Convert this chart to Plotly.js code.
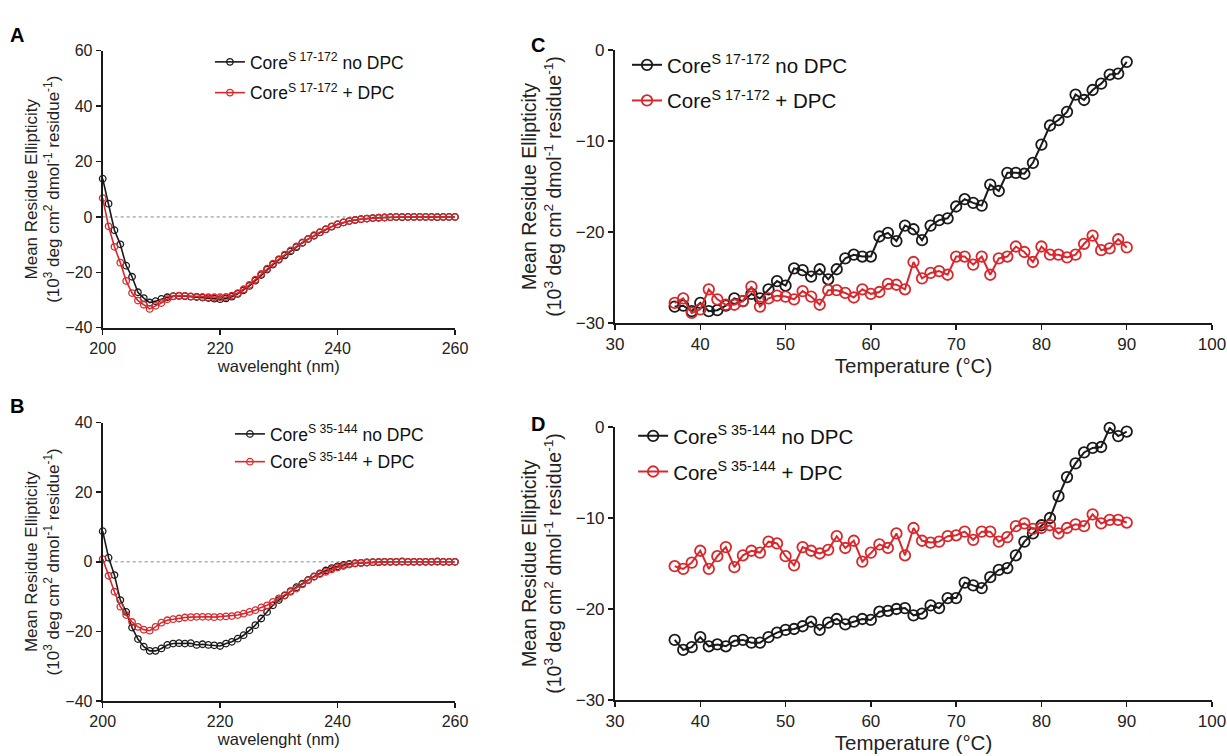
<!DOCTYPE html>
<html>
<head>
<meta charset="utf-8">
<script src="https://cdn.plot.ly/plotly-3.0.1.min.js"></script>
<style>html,body{margin:0;padding:0;background:#fff;}#chart{width:1227px;height:756px;}</style>
</head>
<body>
<div id="chart"></div>
<script>
// ---------- DATA ----------
const wavelength = [200,201,202,203,204,205,206,207,208,209,210,211,212,213,214,215,216,217,218,219,
  220,221,222,223,224,225,226,227,228,229,230,231,232,233,234,235,236,237,238,239,
  240,241,242,243,244,245,246,247,248,249,250,251,252,253,254,255,256,257,258,259,260];

const coreS17_172_noDPC_CD = [13.8,4.8,-4.8,-9.9,-17.6,-21.6,-27.2,-29.3,-30.9,-30.4,
  -29.6,-29.0,-28.6,-28.5,-28.6,-28.8,-28.9,-29.1,-29.3,-29.5,
  -29.7,-29.4,-28.8,-27.8,-26.5,-24.9,-23.0,-21.0,-19.0,-17.2,
  -15.5,-13.9,-12.4,-10.9,-9.4,-8.0,-6.8,-5.6,-4.5,-3.5,
  -2.7,-2.0,-1.5,-1.1,-0.8,-0.6,-0.4,-0.3,-0.2,-0.1,
  0.0,-0.1,0.0,0.0,0.0,0.0,0.0,-0.1,0.0,0.0,0.0];
const coreS17_172_DPC_CD = [6.8,-3.4,-10.8,-16.5,-23.1,-27.5,-30.2,-31.7,-33.2,-32.1,
  -31.1,-29.7,-28.7,-28.4,-28.5,-28.7,-28.8,-28.9,-29.0,-29.0,
  -29.0,-28.9,-28.4,-27.5,-26.1,-24.5,-22.6,-20.6,-18.7,-16.9,
  -15.2,-13.6,-12.1,-10.6,-9.2,-7.9,-6.6,-5.5,-4.4,-3.4,
  -2.6,-2.0,-1.5,-1.1,-0.8,-0.6,-0.4,-0.3,-0.2,-0.1,
  0.0,0.0,0.0,0.0,0.0,0.0,0.0,0.0,0.0,0.0,0.0];

const coreS35_144_noDPC_CD = [8.8,1.2,-3.8,-11.0,-14.4,-18.9,-22.2,-24.4,-25.6,-25.6,
  -24.9,-23.9,-23.5,-23.4,-23.5,-23.4,-23.9,-23.7,-23.9,-24.0,
  -24.2,-23.5,-23.0,-22.1,-21.1,-19.7,-18.2,-16.3,-14.4,-12.5,
  -11.0,-9.7,-8.4,-7.3,-6.3,-5.2,-4.2,-3.3,-2.5,-1.8,
  -1.3,-0.9,-0.6,-0.4,-0.3,-0.2,-0.1,-0.1,0.0,0.0,
  0.0,0.1,0.0,0.0,0.0,0.0,0.0,0.1,0.0,0.0,0.0];
const coreS35_144_DPC_CD = [0.8,-4.0,-8.6,-12.9,-15.3,-17.3,-18.7,-19.5,-19.8,-18.7,
  -17.5,-16.8,-16.5,-16.3,-16.0,-15.9,-15.8,-15.8,-15.8,-15.9,
  -15.8,-15.7,-15.6,-15.3,-14.9,-14.4,-13.9,-13.1,-12.5,-11.5,
  -10.5,-9.6,-8.6,-7.7,-6.5,-5.3,-4.3,-3.5,-2.9,-2.2,
  -1.6,-1.2,-0.8,-0.5,-0.3,-0.2,-0.1,0.0,0.0,0.0,
  0.0,0.0,0.0,0.0,0.0,0.0,0.0,0.0,0.0,0.0,0.0];

const temperature = [37,38,39,40,41,42,43,44,45,46,47,48,49,50,51,52,53,54,55,56,57,58,59,60,
  61,62,63,64,65,66,67,68,69,70,71,72,73,74,75,76,77,78,79,80,81,82,83,84,85,86,87,88,89,90];

const coreS17_172_noDPC_melt = [-28.2,-28.1,-28.7,-27.8,-28.7,-28.6,-28.1,-27.3,-27.6,-26.8,
  -27.3,-26.3,-25.4,-25.9,-24.0,-24.2,-24.9,-24.1,-25.2,-24.1,
  -22.9,-22.5,-22.7,-22.7,-20.5,-20.1,-21.0,-19.3,-19.7,-20.9,
  -19.3,-18.7,-18.5,-17.2,-16.4,-16.8,-17.1,-14.8,-15.5,-13.5,
  -13.5,-13.6,-12.4,-10.4,-8.3,-7.7,-6.8,-4.9,-5.5,-4.4,
  -3.7,-2.7,-2.6,-1.3];
const coreS17_172_DPC_melt = [-27.8,-27.3,-28.9,-28.5,-26.3,-27.4,-28.0,-28.0,-27.6,-26.0,
  -28.2,-27.3,-27.0,-27.1,-27.4,-26.5,-27.1,-28.0,-26.4,-26.4,
  -26.7,-27.2,-26.3,-26.8,-26.6,-25.7,-25.8,-26.3,-23.3,-25.1,
  -24.5,-24.3,-24.7,-22.7,-22.7,-23.6,-22.7,-24.7,-22.9,-22.7,
  -21.6,-22.2,-23.3,-21.6,-22.5,-22.5,-22.8,-22.5,-21.3,-20.4,
  -22.0,-21.8,-20.8,-21.7];

const coreS35_144_noDPC_melt = [-23.4,-24.5,-24.2,-23.1,-24.1,-23.9,-24.1,-23.5,-23.4,-23.7,
  -23.7,-23.1,-22.6,-22.3,-22.2,-21.9,-21.4,-22.3,-21.5,-21.1,
  -21.7,-21.4,-21.1,-21.2,-20.3,-20.2,-20.0,-19.9,-20.7,-20.5,
  -19.6,-19.9,-18.8,-18.8,-17.1,-17.4,-17.7,-16.5,-15.7,-15.5,
  -14.1,-12.6,-11.7,-10.8,-10.0,-7.6,-5.5,-4.0,-2.8,-2.3,
  -2.2,-0.1,-1.0,-0.5];
const coreS35_144_DPC_melt = [-15.3,-15.6,-14.9,-13.6,-15.6,-14.2,-13.2,-15.4,-14.1,-13.6,
  -13.8,-12.6,-12.8,-14.2,-15.2,-13.2,-13.6,-13.9,-13.5,-12.0,
  -13.3,-12.5,-14.8,-13.8,-12.9,-13.3,-11.7,-14.1,-11.1,-12.5,
  -12.7,-12.6,-12.0,-11.9,-11.5,-12.4,-11.5,-11.5,-12.6,-12.1,
  -10.9,-10.6,-11.2,-11.1,-10.8,-11.7,-11.1,-10.7,-10.9,-9.6,
  -10.6,-10.2,-10.2,-10.5];

const legendNames = {
  A: ['Core<sup>S 17-172</sup> no DPC', 'Core<sup>S 17-172</sup> + DPC'],
  B: ['Core<sup>S 35-144</sup> no DPC', 'Core<sup>S 35-144</sup> + DPC'],
  C: ['Core<sup>S 17-172</sup> no DPC', 'Core<sup>S 17-172</sup> + DPC'],
  D: ['Core<sup>S 35-144</sup> no DPC', 'Core<sup>S 35-144</sup> + DPC']
};
const panelLabels = ['A','B','C','D'];
const yTitle = 'Mean Residue Ellipticity<br>(10<sup>3</sup> deg cm<sup>2</sup> dmol<sup>-1</sup> residue<sup>-1</sup>)';
const xTitleCD = 'wavelenght (nm)';
const xTitleMelt = 'Temperature (°C)';

// ---------- STYLE ----------
const BLACK = '#1a1a1a';
const RED = '#d8282d';
const FONT = 'Liberation Sans, Arial, sans-serif';

function trace(x, y, name, color, xa, ya, leg, small) {
  return {
    x: x, y: y, name: name, type: 'scatter', mode: 'lines+markers',
    xaxis: xa, yaxis: ya, legend: leg, legendgroup: leg + name,
    cliponaxis: false,
    line: {color: color, width: small ? 1.6 : 2},
    marker: {symbol: 'circle-open', size: small ? 6.5 : 10.5, color: color, line: {width: small ? 1.3 : 1.8, color: color}}
  };
}

const data = [
  trace(wavelength, coreS17_172_noDPC_CD, legendNames.A[0], BLACK, 'x', 'y', 'legend', true),
  trace(wavelength, coreS17_172_DPC_CD, legendNames.A[1], RED, 'x', 'y', 'legend', true),
  trace(wavelength, coreS35_144_noDPC_CD, legendNames.B[0], BLACK, 'x2', 'y2', 'legend2', true),
  trace(wavelength, coreS35_144_DPC_CD, legendNames.B[1], RED, 'x2', 'y2', 'legend2', true),
  trace(temperature, coreS17_172_noDPC_melt, legendNames.C[0], BLACK, 'x3', 'y3', 'legend3', false),
  trace(temperature, coreS17_172_DPC_melt, legendNames.C[1], RED, 'x3', 'y3', 'legend3', false),
  trace(temperature, coreS35_144_noDPC_melt, legendNames.D[0], BLACK, 'x4', 'y4', 'legend4', false),
  trace(temperature, coreS35_144_DPC_melt, legendNames.D[1], RED, 'x4', 'y4', 'legend4', false)
];

function xaxis(domain, range, dtick, anchor, title, tickSize, titleSize, standoff) {
  return {
    domain: domain, range: range, dtick: dtick, tick0: range[0], anchor: anchor,
    showline: true, linecolor: BLACK, linewidth: 2, mirror: false,
    ticks: 'outside', ticklen: 5, tickwidth: 1.5, tickcolor: BLACK,
    showgrid: false, zeroline: false, fixedrange: true,
    tickfont: {family: FONT, size: tickSize, color: '#222'},
    title: {text: title, font: {family: FONT, size: titleSize, color: '#222'}, standoff: standoff}
  };
}
function yaxis(domain, range, dtick, anchor, tickSize, titleSize, standoff) {
  return {
    domain: domain, range: range, dtick: dtick, tick0: range[0], anchor: anchor,
    showline: true, linecolor: BLACK, linewidth: 2,
    ticks: 'outside', ticklen: 5, tickwidth: 1.5, tickcolor: BLACK,
    showgrid: false, zeroline: false, fixedrange: true,
    tickfont: {family: FONT, size: tickSize, color: '#222'},
    title: {text: yTitle, font: {family: FONT, size: titleSize, color: '#222'}, standoff: standoff}
  };
}
function legend(x, y, size, gap) {
  return {x: x, y: y, xanchor: 'left', yanchor: 'top', bgcolor: 'rgba(0,0,0,0)',
    font: {family: FONT, size: size, color: '#111'}, traceorder: 'grouped', tracegroupgap: gap,
    itemwidth: 30};
}

const layout = {
  width: 1227, height: 756,
  margin: {l: 0, r: 0, t: 0, b: 0},
  paper_bgcolor: '#fff', plot_bgcolor: '#fff',
  showlegend: true,
  xaxis: xaxis([0.0837, 0.3708], [200, 260], 20, 'y', xTitleCD, 16, 16.5, 3),
  yaxis: yaxis([0.5665, 0.9329], [-40, 60], 20, 'x', 16, 17, 1),
  xaxis2: xaxis([0.0837, 0.3708], [200, 260], 20, 'y2', xTitleCD, 16, 16.5, 3),
  yaxis2: yaxis([0.0728, 0.4409], [-40, 40], 20, 'x2', 16, 17, 1),
  xaxis3: xaxis([0.5012, 0.9878], [30, 100], 10, 'y3', xTitleMelt, 17, 20.5, 5),
  yaxis3: yaxis([0.5728, 0.9339], [-30, 0], 10, 'x3', 17, 19.5, 9),
  xaxis4: xaxis([0.5012, 0.9878], [30, 100], 10, 'y4', xTitleMelt, 17, 20.5, 5),
  yaxis4: yaxis([0.0741, 0.4352], [-30, 0], 10, 'x4', 17, 19.5, 9),
  legend: legend(0.1711, 0.9418, 17.5, 5),
  legend2: legend(0.1874, 0.4497, 17.5, 2),
  legend3: legend(0.5110, 0.9405, 20.5, 6),
  legend4: legend(0.5160, 0.4497, 20.5, 6),
  shapes: [
    {type: 'line', xref: 'x domain', yref: 'y', x0: 0, x1: 1, y0: 0, y1: 0, layer: 'below',
      line: {color: '#888', width: 1, dash: 'dot'}},
    {type: 'line', xref: 'x2 domain', yref: 'y2', x0: 0, x1: 1, y0: 0, y1: 0, layer: 'below',
      line: {color: '#888', width: 1, dash: 'dot'}}
  ],
  annotations: [
    {text: '<b>' + panelLabels[0] + '</b>', xref: 'paper', yref: 'paper', x: 8/1227, y: 1 - 35/756, xanchor: 'left', yanchor: 'middle', showarrow: false, font: {family: FONT, size: 20, color: '#000'}},
    {text: '<b>' + panelLabels[1] + '</b>', xref: 'paper', yref: 'paper', x: 8/1227, y: 1 - 406/756, xanchor: 'left', yanchor: 'middle', showarrow: false, font: {family: FONT, size: 20, color: '#000'}},
    {text: '<b>' + panelLabels[2] + '</b>', xref: 'paper', yref: 'paper', x: 529/1227, y: 1 - 45/756, xanchor: 'left', yanchor: 'middle', showarrow: false, font: {family: FONT, size: 20, color: '#000'}},
    {text: '<b>' + panelLabels[3] + '</b>', xref: 'paper', yref: 'paper', x: 529/1227, y: 1 - 424/756, xanchor: 'left', yanchor: 'middle', showarrow: false, font: {family: FONT, size: 20, color: '#000'}}
  ]
};

Plotly.newPlot('chart', data, layout, {displayModeBar: false, staticPlot: true});
</script>
</body>
</html>
